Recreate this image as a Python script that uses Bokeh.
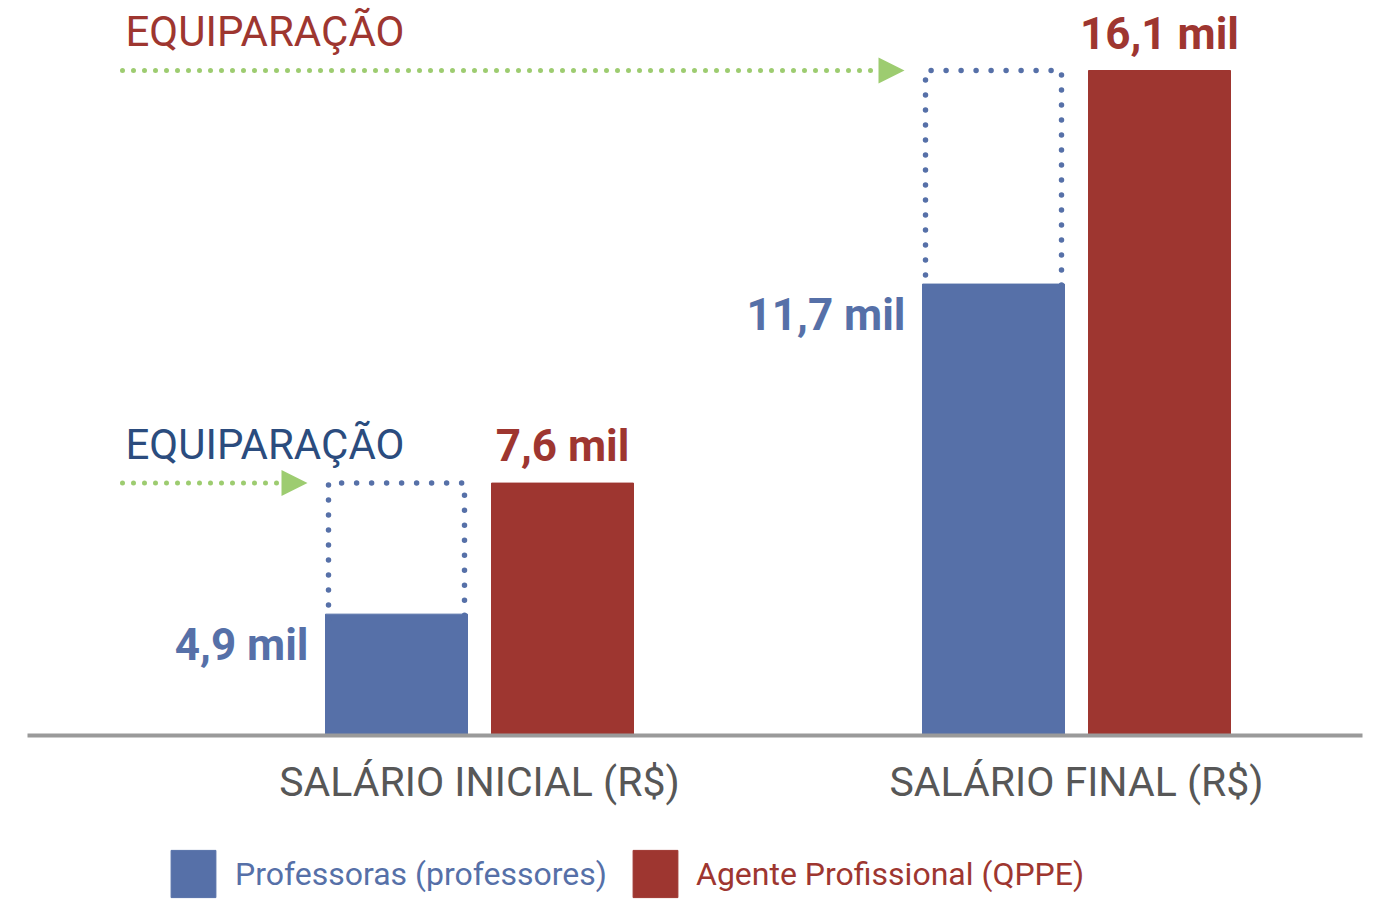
from bokeh.plotting import figure
from bokeh.models import Range1d, Arrow, NormalHead, Legend, LegendItem, ColumnDataSource
from bokeh.core.properties import value
from bokeh.embed import file_html
from bokeh.resources import INLINE

# ---------------- data ----------------
categories = ["SALÁRIO INICIAL (R$)", "SALÁRIO FINAL (R$)"]
series_names = ["Professoras (professores)", "Agente Profissional (QPPE)"]
professoras = [4.9, 11.7]          # mil R$
agente = [7.6, 16.1]               # mil R$
labels_professoras = ["4,9 mil", "11,7 mil"]
labels_agente = ["7,6 mil", "16,1 mil"]
equip_text = ["EQUIPARAÇÃO", "EQUIPARAÇÃO"]

# ---------------- style / layout ----------------
W, H = 1388, 901
BLUE = "#5670A8"
RED = "#9E3630"
GREEN = "#9DCC70"
DARK = "#2B4C7E"
AXIS_GRAY = "#9A9A9A"
TEXT_GRAY = "#575757"
FONT = "Roboto"

BASE = 2.4                  # value drawn on the baseline (illustrative scale)
GROUP_PX = 597.0            # pixels per category step
GROUP0_PX = 479.0           # pixel centre of first category
TOP_PX, BASE_PX = 70.0, 735.0

ppu_y = (BASE_PX - TOP_PX) / (max(agente) - BASE)
y_start = BASE - (H - BASE_PX) / ppu_y
y_end = max(agente) + TOP_PX / ppu_y
x_start = -GROUP0_PX / GROUP_PX
x_end = (W - GROUP0_PX) / GROUP_PX

def px(v):
    return v / GROUP_PX

OFF = px(83)
BW = px(142)

idx = list(range(len(categories)))
xb = [i - OFF for i in idx]
xr = [i + OFF for i in idx]

p = figure(width=W, height=H, x_range=Range1d(x_start, x_end), y_range=Range1d(y_start, y_end),
           output_backend="svg", toolbar_location=None, min_border=0,
           x_axis_location=None, y_axis_location=None)
p.grid.visible = False
p.outline_line_color = None
p.background_fill_color = "white"
p.border_fill_color = "white"

src = ColumnDataSource(dict(
    xb=xb, xr=xr, cat_x=idx, prof=professoras, ag=agente,
    lp=labels_professoras, la=labels_agente, cat=categories, eq=equip_text,
    eq_color=[DARK, RED],
    box_l=[x - BW / 2 + px(3) for x in xb],
    box_r=[x + BW / 2 - px(3) for x in xb],
    lab_bx=[x - BW / 2 - px(17) for x in xb],
    arrow_x0=[px(122 - GROUP0_PX)] * len(idx),
    arrow_tip=[x - BW / 2 - px(18) for x in xb],
    eq_x=[px(125 - GROUP0_PX)] * len(idx),
))

rb = p.vbar(x="xb", top="prof", bottom=BASE, width=BW, fill_color=BLUE, line_color=BLUE, source=src)
rr = p.vbar(x="xr", top="ag", bottom=BASE, width=BW, fill_color=RED, line_color=RED, source=src)

# dotted "equiparação" boxes above the blue bars
xs = [[l, l, r, r] for l, r in zip(src.data["box_l"], src.data["box_r"])]
ys = [[pv - 0.12, av, av, pv - 0.12] for pv, av in zip(professoras, agente)]
p.multi_line(xs=xs, ys=ys, line_color=BLUE, line_width=5.5, line_dash="0 15", line_cap="round")

# green dotted arrows
arrow = Arrow(end=NormalHead(size=26, fill_color=GREEN, line_color=None),
              x_start="arrow_x0", y_start="ag", x_end="arrow_tip", y_end="ag",
              line_color=GREEN, line_width=5, line_dash="0 11", line_cap="round", source=src)
p.add_layout(arrow)

# baseline
p.segment(x0=px(27 - GROUP0_PX), x1=px(1362 - GROUP0_PX), y0=BASE, y1=BASE,
          line_color=AXIS_GRAY, line_width=4)

# texts
p.text(x="eq_x", y="ag", text="eq", source=src, text_color="eq_color",
       text_font=value(FONT), text_font_size="42px", text_align="left",
       text_baseline="alphabetic", y_offset=-39)
p.text(x="xr", y="ag", text="la", source=src, text_color=RED,
       text_font=value(FONT), text_font_style="bold", text_font_size="44px",
       text_align="center", text_baseline="alphabetic", y_offset=-37)
p.text(x="lab_bx", y="prof", text="lp", source=src, text_color=BLUE,
       text_font=value(FONT), text_font_style="bold", text_font_size="44px",
       text_align="right", text_baseline="alphabetic", y_offset=31)
p.text(x="cat_x", y=BASE, text="cat", source=src, text_color=TEXT_GRAY,
       text_font=value(FONT), text_font_size="41px",
       text_align="center", text_baseline="alphabetic", y_offset=46)

# legends
def make_legend(label, rend, color, loc, standoff):
    leg = Legend(items=[LegendItem(label=label, renderers=[rend])], location=loc,
                 glyph_width=56, glyph_height=59, label_standoff=standoff,
                 padding=0, margin=0, border_line_color=None, background_fill_alpha=0,
                 label_text_font=FONT, label_text_font_size="32px", label_text_color=color)
    return leg

p.add_layout(make_legend(series_names[0], rb, BLUE, (165, -2), 14))
p.add_layout(make_legend(series_names[1], rr, RED, (627, -2), 13))

open("out.html", "w").write(file_html(p, INLINE))
